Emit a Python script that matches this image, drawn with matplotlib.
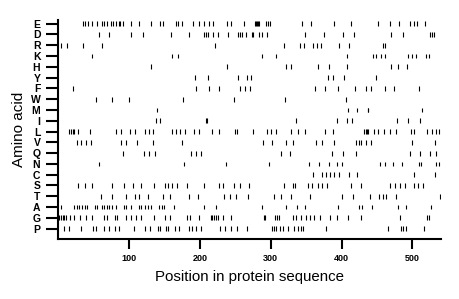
import matplotlib
matplotlib.use("Agg")
import matplotlib.pyplot as plt

# Amino acid rows, top to bottom
amino_acids = ["E", "D", "R", "K", "H", "Y", "F", "W", "M", "I",
               "L", "V", "Q", "N", "C", "S", "T", "A", "G", "P"]

pos_E = [35, 38, 42, 47, 54, 61, 64, 69, 74, 77, 82, 85, 87, 91, 102, 114, 131, 144, 148,
         166, 169, 174, 190, 199, 206, 213, 219, 238, 244, 262, 277, 279, 280, 282, 283,
         293, 296, 299, 344, 357, 390, 413, 452, 468, 481, 496, 502, 506, 518]
pos_D = [58, 71, 102, 119, 159, 185, 205, 208, 212, 219, 226, 240, 253, 256, 260, 265,
         273, 275, 284, 287, 295, 348, 375, 402, 417, 470, 487, 525, 528, 530]
pos_R = [3, 12, 35, 61, 221, 319, 341, 347, 360, 365, 371, 397, 410, 458, 462]
pos_K = [48, 160, 169, 287, 307, 408, 444, 448, 455, 462, 494, 500, 505, 519, 523]
pos_H = [131, 238, 321, 328, 366, 382, 407, 470, 480, 492]
pos_Y = [193, 212, 254, 267, 272, 381, 388, 404, 448]
pos_F = [20, 195, 213, 227, 257, 264, 271, 362, 376, 395, 419, 435, 442, 462, 474, 509]
pos_W = [53, 76, 100, 176, 248, 320, 406]
pos_M = [139, 409, 422, 437, 438, 514]
pos_I = [138, 143, 208, 210, 336, 393, 407, 415, 478, 494, 511]
pos_L = [15, 18, 20, 22, 27, 45, 82, 89, 101, 108, 123, 128, 134, 161, 166, 172, 179,
         192, 198, 217, 227, 250, 252, 275, 294, 300, 308, 329, 338, 349, 376, 388, 432,
         434, 436, 437, 446, 451, 460, 469, 477, 498, 503, 520, 528, 533, 538]
pos_V = [26, 32, 39, 46, 89, 96, 111, 133, 175, 289, 302, 322, 332, 364, 372, 389, 421,
         425, 428, 434, 441, 499, 532]
pos_Q = [91, 121, 128, 136, 187, 195, 202, 315, 327, 386, 402, 420, 496, 511, 525, 534]
pos_N = [57, 178, 237, 298, 354, 368, 382, 393, 400, 454, 461, 472, 486, 509, 512, 534, 537]
pos_C = [359, 372, 378, 383, 389, 397, 411, 422, 502, 532]
pos_S = [27, 37, 48, 75, 92, 105, 117, 135, 151, 155, 161, 167, 182, 205, 227, 233, 248,
         257, 269, 318, 332, 334, 353, 358, 367, 373, 379, 413, 428, 468, 476, 482, 490,
         503, 508, 515]
pos_T = [60, 76, 95, 108, 114, 126, 148, 157, 184, 197, 234, 242, 251, 268, 304, 314, 328,
         356, 401, 416, 440, 453, 459, 463, 477, 539]
pos_A = [4, 22, 26, 29, 33, 37, 41, 52, 55, 61, 65, 68, 72, 75, 82, 93, 96, 103, 114, 117,
         123, 127, 131, 142, 147, 149, 163, 205, 223, 288, 321, 337, 349, 395, 425, 429,
         443, 480, 491, 527]
pos_G = [1, 4, 6, 8, 11, 16, 22, 31, 39, 48, 65, 68, 80, 83, 96, 102, 110, 117, 135, 150,
         157, 181, 186, 198, 215, 217, 220, 222, 226, 233, 244, 291, 292, 306, 309, 311,
         331, 336, 343, 350, 355, 361, 369, 384, 394, 409, 428, 482, 521, 523]
pos_P = [8, 15, 32, 49, 53, 65, 72, 80, 85, 107, 123, 129, 140, 143, 152, 155, 164, 170,
         185, 189, 195, 202, 228, 235, 244, 252, 267, 302, 305, 308, 313, 317, 325, 333,
         339, 342, 346, 378, 466, 484, 487, 491, 517]

rows = [pos_E, pos_D, pos_R, pos_K, pos_H, pos_Y, pos_F, pos_W, pos_M, pos_I,
        pos_L, pos_V, pos_Q, pos_N, pos_C, pos_S, pos_T, pos_A, pos_G, pos_P]

x_ticks = [100, 200, 300, 400, 500]

plt.rcParams['font.family'] = ['Liberation Sans', 'DejaVu Sans']

fig = plt.figure(figsize=(4.6, 2.99), dpi=100)
ax = fig.add_axes([0.127, 0.2017, 0.831, 0.730])

n = len(amino_acids)
for i, positions in enumerate(rows):
    y = n - 1 - i
    ax.vlines(positions, y - 0.22, y + 0.22, color="black", linewidth=0.8)

ax.set_xlim(0, 540)
ax.set_ylim(-0.93, n - 1 + 0.3)
ax.set_yticks(range(n))
ax.set_yticklabels(amino_acids[::-1], fontsize=7.5, fontweight="bold")
ax.set_xticks(x_ticks)
ax.set_xticklabels([str(t) for t in x_ticks], fontsize=6.5, fontweight="bold")

for side in ["top", "right"]:
    ax.spines[side].set_visible(False)
for side in ["left", "bottom"]:
    ax.spines[side].set_linewidth(1.5)

ax.tick_params(axis="y", length=9, width=1.5, pad=4)
ax.tick_params(axis="x", length=7, width=1.5, pad=4)

ax.set_xlabel("Position in protein sequence", fontsize=10.8, labelpad=5)
ax.set_ylabel("Amino acid", fontsize=11, labelpad=3)

fig.savefig("out.png", dpi=100)
